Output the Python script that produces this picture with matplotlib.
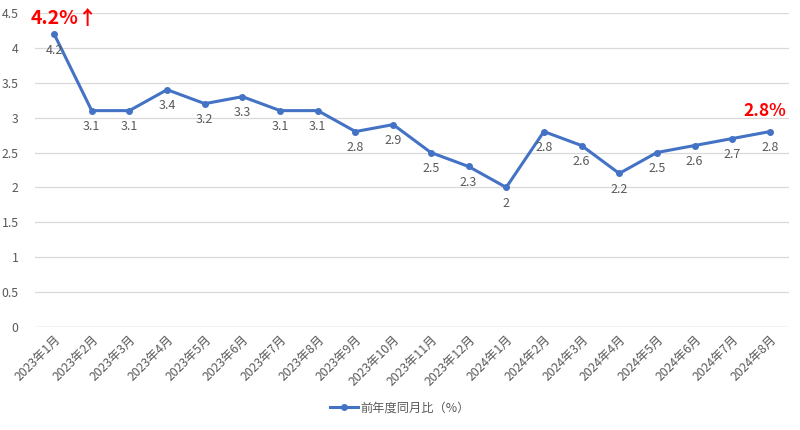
import matplotlib
matplotlib.use('Agg')
import matplotlib.pyplot as plt

plt.rcParams['font.family'] = ['Noto Sans CJK JP', 'DejaVu Sans']

months = ['2023年1月', '2023年2月', '2023年3月', '2023年4月', '2023年5月', '2023年6月',
          '2023年7月', '2023年8月', '2023年9月', '2023年10月', '2023年11月', '2023年12月',
          '2024年1月', '2024年2月', '2024年3月', '2024年4月', '2024年5月', '2024年6月',
          '2024年7月', '2024年8月']
values = [4.2, 3.1, 3.1, 3.4, 3.2, 3.3, 3.1, 3.1, 2.8, 2.9, 2.5, 2.3,
          2.0, 2.8, 2.6, 2.2, 2.5, 2.6, 2.7, 2.8]
yticks = [0, 0.5, 1, 1.5, 2, 2.5, 3, 3.5, 4, 4.5]
ytick_labels = ['0', '0.5', '1', '1.5', '2', '2.5', '3', '3.5', '4', '4.5']

gray = '#595959'
blue = '#4472C4'

fig = plt.figure(figsize=(8, 4.3), dpi=100, facecolor='white')
ax = fig.add_axes([0.044, 0.2395, 0.942, 0.7305])

x = list(range(len(months)))
ax.plot(x, values, '-o', color=blue, linewidth=2.2, markersize=4, label='前年度同月比（%）', zorder=3)

for xi, v in zip(x, values):
    lab = f'{v:g}'
    ax.annotate(lab, (xi, v), xytext=(0, -7), textcoords='offset points',
                ha='center', va='top', fontsize=9, color=gray)

ax.set_xlim(-0.5, len(months) - 0.5)
ax.set_ylim(0, 4.5)
ax.set_yticks(yticks)
ax.set_yticklabels(ytick_labels)
ax.set_xticks(x)
ax.set_xticklabels(months, rotation=45, ha='right', rotation_mode='anchor')
ax.tick_params(axis='both', length=0, colors=gray, labelsize=8.8)
ax.tick_params(axis='y', pad=12)
ax.tick_params(axis='x', pad=4)
ax.grid(axis='y', color='#d9d9d9', linewidth=0.9)
ax.set_axisbelow(True)
for s in ax.spines.values():
    s.set_visible(False)
ax.axhline(0, color='#d9d9d9', linewidth=1.0)

# highlight labels
ax.annotate('4.2%↑', (0, 4.5), xytext=(-17, -4), textcoords='offset points',
            ha='left', va='center', fontsize=14, fontweight='bold', color='red')
ax.annotate('2.8%', (len(months) - 1, 3.1), xytext=(-4, 0), textcoords='offset points',
            ha='center', va='center', fontsize=12.5, fontweight='bold', color='red')

fig.legend(loc='lower center', bbox_to_anchor=(0.5, 0.01), frameon=False,
           fontsize=8.8, labelcolor=gray, handlelength=2.3, handletextpad=0.2)

fig.savefig('out.png', dpi=100, facecolor='white')
